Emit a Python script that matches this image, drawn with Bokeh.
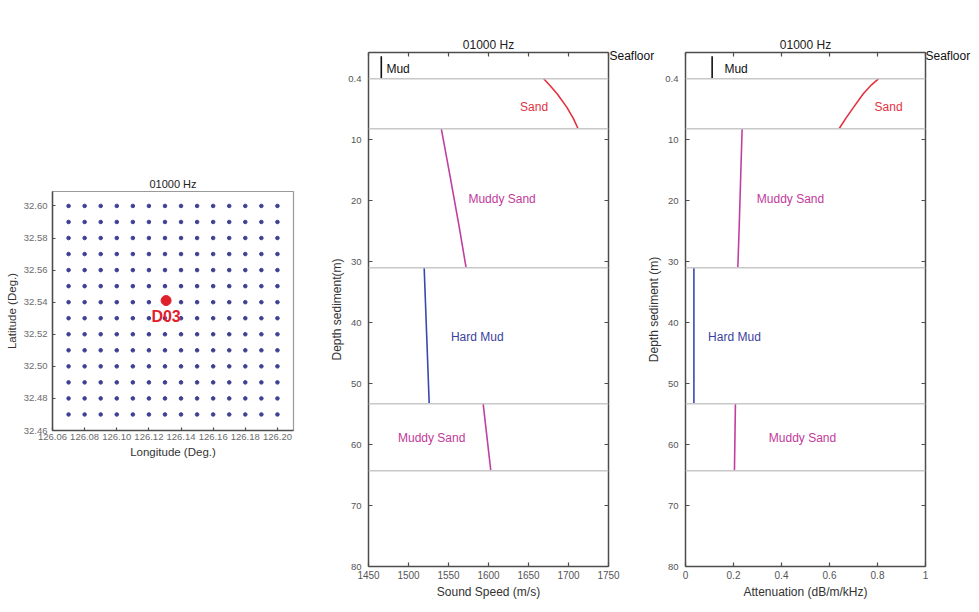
from bokeh.plotting import figure
from bokeh.models import (Range1d, LinearAxis, FixedTicker, Span, Label, PrintfTickFormatter,
                          CustomLabelingPolicy)
from bokeh.embed import file_html
from bokeh.resources import INLINE

FONT = "Liberation Sans"

# ---------------- map data ----------------
grid_lon = [126.07, 126.08, 126.09, 126.10, 126.11, 126.12, 126.13,
            126.14, 126.15, 126.16, 126.17, 126.18, 126.19, 126.20]
grid_lat = [32.47, 32.48, 32.49, 32.50, 32.51, 32.52, 32.53,
            32.54, 32.55, 32.56, 32.57, 32.58, 32.59, 32.60]
station_lon = [126.1307]
station_lat = [32.541]
station_name = ["D03"]
lon_ticks = [126.06, 126.08, 126.10, 126.12, 126.14, 126.16, 126.18, 126.20]
lat_ticks = [32.46, 32.48, 32.50, 32.52, 32.54, 32.56, 32.58, 32.60]

# ---------------- profile data ----------------
# depth axis positions (top segment 0..0.4 m drawn above the "0.4" mark)
depth_ticks = [0, 10, 20, 30, 40, 50, 60, 70, 80]
boundary_depth = [0, 8.2, 31.0, 53.3, 64.3]

layer_names = ["Mud", "Sand", "Muddy Sand", "Hard Mud", "Muddy Sand"]
layer_colors = ["#111111", "#e2323f", "#c2399c", "#3b3f9e", "#c2399c"]
line_colors = ["#111111", "#e2323f", "#c040a0", "#3a48b0", "#c040a0"]

mud_depth = [-3.7, 0.0]
mud_speed = [1466, 1466]
mud_atten = [0.111, 0.111]

sand_depth = [0.0, 1.0, 2.5, 4.7, 6.5, 8.2]
sand_speed = [1669, 1676, 1686, 1698, 1706, 1712]
sand_atten = [0.805, 0.775, 0.740, 0.700, 0.668, 0.640]

msand1_depth = [8.2, 16.0, 24.0, 31.0]
msand1_speed = [1541, 1552, 1563, 1572]
msand1_atten = [0.236, 0.230, 0.224, 0.218]

hmud_depth = [31.0, 53.3]
hmud_speed = [1519.6, 1525.9]
hmud_atten = [0.035, 0.035]

msand2_depth = [53.3, 64.3]
msand2_speed = [1593.3, 1602.9]
msand2_atten = [0.208, 0.204]

speed_ticks = [1450, 1500, 1550, 1600, 1650, 1700, 1750]
atten_ticks = [0, 0.2, 0.4, 0.6, 0.8, 1]

NO_LABELS = "for (const i of indices) indices.unset(i)"


def style_axis(ax, label_size="10px", color="#555555"):
    ax.major_tick_in = 4
    ax.major_tick_out = 0
    ax.minor_tick_line_color = None
    ax.axis_line_color = "#4d4d4d"
    ax.axis_line_width = 1.5
    ax.major_tick_line_color = "#4d4d4d"
    ax.major_tick_line_width = 1.2
    ax.major_label_text_font = FONT
    ax.major_label_text_font_size = label_size
    ax.major_label_text_color = color
    ax.axis_label_text_font = FONT
    ax.axis_label_text_font_style = "normal"
    ax.axis_label_text_color = "#333333"


# ---------------- map figure ----------------
p1 = figure(width=332, height=596, output_backend="svg", toolbar_location=None,
            x_range=Range1d(126.06, 126.21), y_range=Range1d(32.46, 32.609),
            min_border_left=54, min_border_right=37, min_border_top=183, min_border_bottom=174,
            title="01000 Hz")
p1.title.align = "center"
p1.title.text_font = FONT
p1.title.text_font_style = "normal"
p1.title.text_font_size = "11px"
p1.title.text_color = "#222222"
p1.title.standoff = 3
p1.xgrid.visible = False
p1.ygrid.visible = False
p1.outline_line_color = "#9a9a9a"
p1.outline_line_width = 1.2
p1.border_fill_alpha = 0

lons = [lo for la in grid_lat for lo in grid_lon]
lats = [la for la in grid_lat for lo in grid_lon]
p1.scatter(lons, lats, size=3.6, color="#3d4196", marker="circle")
p1.scatter(station_lon, station_lat, size=10, color="#e0202c")

for lo, la, nm in zip(station_lon, station_lat, station_name):
    p1.add_layout(Label(x=lo, y=la, text=nm, text_align="center", text_baseline="middle",
                        y_offset=-16, text_font=FONT, text_font_style="bold",
                        text_font_size="16px", text_color="#e0202c"))

for ax in p1.xaxis:
    style_axis(ax, "9.5px", "#6a6a6a")
    ax.ticker = FixedTicker(ticks=lon_ticks)
    ax.formatter = PrintfTickFormatter(format="%.2f")
    ax.axis_label = "Longitude (Deg.)"
    ax.axis_label_text_font_size = "11.5px"
    ax.axis_label_standoff = 3
    ax.major_label_standoff = 3
    ax.major_tick_in = 3
for ax in p1.yaxis:
    style_axis(ax, "9.5px", "#6a6a6a")
    ax.ticker = FixedTicker(ticks=lat_ticks)
    ax.formatter = PrintfTickFormatter(format="%.2f")
    ax.axis_label = "Latitude (Deg.)"
    ax.axis_label_text_font_size = "11.5px"
    ax.axis_label_standoff = 3
    ax.major_label_standoff = 5
    ax.major_tick_in = 3


# ---------------- profile figures ----------------
def make_profile(xr, xticks, xlabel, ylabel, xvals, label_pos, width, min_right,
                 overrides=None):
    p = figure(width=width, height=596, output_backend="svg", toolbar_location=None,
               x_range=Range1d(*xr), y_range=Range1d(80, -4.3),
               min_border_left=44, min_border_right=min_right,
               min_border_top=44, min_border_bottom=38, title="01000 Hz")
    p.title.align = "center"
    p.title.text_font = FONT
    p.title.text_font_style = "normal"
    p.title.text_font_size = "12px"
    p.title.text_color = "#222222"
    p.title.standoff = -7
    p.xgrid.visible = False
    p.ygrid.visible = False
    p.outline_line_color = None
    p.border_fill_alpha = 0

    p.add_layout(LinearAxis(), "above")
    p.add_layout(LinearAxis(), "right")
    for ax in p.xaxis:
        style_axis(ax)
        ax.ticker = FixedTicker(ticks=xticks)
    for ax in p.yaxis:
        style_axis(ax, "9.5px")
        ax.ticker = FixedTicker(ticks=depth_ticks)
    p.below[0].axis_label = xlabel
    p.below[0].axis_label_text_font_size = "12px"
    p.below[0].axis_label_standoff = 3
    p.below[0].major_label_standoff = 4
    if overrides:
        p.below[0].major_label_overrides = overrides
    p.left[0].axis_label = ylabel
    p.left[0].axis_label_text_font_size = "12px"
    p.left[0].axis_label_standoff = 1
    p.left[0].major_label_standoff = 7
    p.left[0].major_label_overrides = {0: "0.4"}
    for ax in (p.above[0], p.right[0]):
        ax.major_label_policy = CustomLabelingPolicy(code=NO_LABELS)
        ax.major_label_text_font_size = "1px"
        ax.major_label_standoff = 0

    for b in boundary_depth:
        p.add_layout(Span(location=b, dimension="width", line_color="#c8c8c8", line_width=1.5))

    depths = [mud_depth, sand_depth, msand1_depth, hmud_depth, msand2_depth]
    for d, xv, c in zip(depths, xvals, line_colors):
        p.line(xv, d, line_color=c, line_width=1.6)

    for (lx, ly, align), nm, c in zip(label_pos, layer_names, layer_colors):
        p.add_layout(Label(x=lx, y=ly, text=nm, text_align=align, text_baseline="middle",
                           text_font=FONT, text_font_size="12px", text_color=c))
    return p


def seafloor_tag():
    # small transparent canvas holding the "Seafloor" marker text
    t = figure(width=52, height=16, output_backend="svg", toolbar_location=None,
               x_range=Range1d(0, 1), y_range=Range1d(0, 1), min_border=0,
               x_axis_type=None, y_axis_type=None)
    t.xgrid.visible = False
    t.ygrid.visible = False
    t.outline_line_color = None
    t.background_fill_alpha = 0
    t.border_fill_alpha = 0
    t.add_layout(Label(x=0, y=0.5, text="Seafloor", text_align="left", text_baseline="middle",
                       text_font=FONT, text_font_size="12px", text_color="#111111"))
    return t


p2 = make_profile((1450, 1750), speed_ticks, "Sound Speed (m/s)", "Depth sediment(m)",
                  [mud_speed, sand_speed, msand1_speed, hmud_speed, msand2_speed],
                  [(1487, -1.64, "center"), (1657, 4.6, "center"), (1617, 19.8, "center"),
                   (1586, 42.3, "center"), (1529, 58.9, "center")],
                  width=334, min_right=50)

p3 = make_profile((0, 1), atten_ticks, "Attenuation (dB/m/kHz)", "Depth sediment (m)",
                  [mud_atten, sand_atten, msand1_atten, hmud_atten, msand2_atten],
                  [(0.162, -1.64, "left"), (0.846, 4.6, "center"), (0.4375, 19.8, "center"),
                   (0.204, 42.3, "center"), (0.4875, 58.9, "center")],
                  width=330, min_right=46,
                  overrides={0: "0", 1: "1"})

t2 = seafloor_tag()
t3 = seafloor_tag()

p1.styles = {"position": "absolute", "left": "-2px", "top": "8px"}
p2.styles = {"position": "absolute", "left": "324px", "top": "8px"}
p3.styles = {"position": "absolute", "left": "641px", "top": "8px"}
t2.styles = {"position": "absolute", "left": "609px", "top": "47px"}
t3.styles = {"position": "absolute", "left": "925px", "top": "47px"}

open("out.html", "w").write(file_html([p1, p2, p3, t2, t3], INLINE))
